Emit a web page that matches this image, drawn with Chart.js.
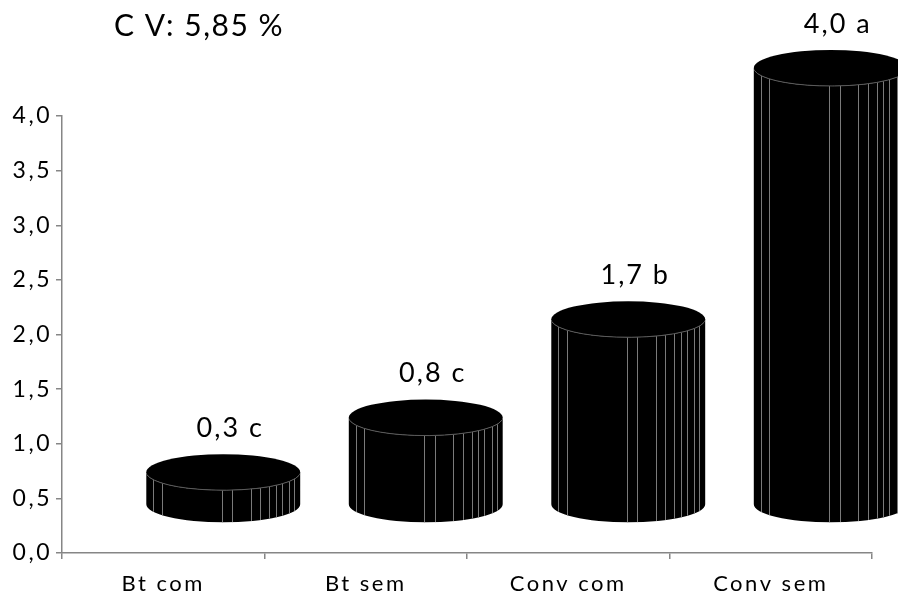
<!DOCTYPE html>
<html>
<head>
<meta charset="utf-8">
<script src="https://cdn.jsdelivr.net/npm/chart.js@4"></script>
<style>
  html, body { margin: 0; padding: 0; background: #fff; }
  #wrap { width: 898px; height: 593px; }
</style>
</head>
<body>
<div id="wrap"><canvas id="chart" width="898" height="593"></canvas></div>
<script>
// ----------------------------------------------------------------
//  Dados
// ----------------------------------------------------------------
const categories = ['Bt com', 'Bt sem', 'Conv com', 'Conv sem'];
const values     = [0.3, 0.8, 1.7, 4.0];
const letters    = ['c', 'c', 'b', 'a'];
const yTicks     = [0, 0.5, 1, 1.5, 2, 2.5, 3, 3.5, 4];
const cvLabel    = 'C V: 5,85 %';

const FONT = 'Lato, "Open Sans", sans-serif';
const fmt = v => v.toFixed(1).replace('.', ',');

// ----------------------------------------------------------------
//  Espaçamento de letras (texto do original é bem espaçado)
// ----------------------------------------------------------------
const spacingPlugin = {
  id: 'spacing',
  beforeLayout(chart) { chart.ctx.letterSpacing = '2.5px'; },
  beforeDraw(chart)   { chart.ctx.letterSpacing = '2.5px'; }
};

// ----------------------------------------------------------------
//  Cilindros 3D (estilo Excel) desenhados sobre as barras
// ----------------------------------------------------------------
const facets = [0.045, 0.10, 0.49, 0.56, 0.68, 0.74, 0.80, 0.84, 0.88, 0.93, 0.96];

const cylinderPlugin = {
  id: 'cylinders',
  afterDatasetsDraw(chart) {
    const ctx  = chart.ctx;
    const meta = chart.getDatasetMeta(0);
    const dx = 60, dy = -48;   // deslocamento de profundidade

    ctx.save();
    meta.data.forEach((bar, i) => {
      const cx   = bar.x + dx;
      const rx   = bar.width / 2;
      const ry   = 18;
      const topY = bar.y + dy;
      const botY = bar.base + dy;

      // corpo
      ctx.beginPath();
      ctx.moveTo(cx - rx, topY);
      ctx.lineTo(cx - rx, botY);
      ctx.ellipse(cx, botY, rx, ry, 0, Math.PI, 0, true);
      ctx.lineTo(cx + rx, topY);
      ctx.ellipse(cx, topY, rx, ry, 0, 0, Math.PI, false);
      ctx.closePath();
      ctx.fillStyle = '#000';
      ctx.fill();

      // faces verticais
      ctx.strokeStyle = '#7a7a7a';
      ctx.lineWidth = 1;
      facets.forEach(f => {
        const x = Math.round(cx - rx + f * 2 * rx) + 0.5;
        const t = (x - cx) / rx;
        const h = ry * Math.sqrt(Math.max(0, 1 - t * t));
        ctx.beginPath();
        ctx.moveTo(x, topY + h);
        ctx.lineTo(x, botY + h);
        ctx.stroke();
      });

      // tampa
      ctx.beginPath();
      ctx.ellipse(cx, topY, rx, ry, 0, 0, Math.PI * 2);
      ctx.fillStyle = '#000';
      ctx.fill();
      ctx.beginPath();
      ctx.ellipse(cx, topY, rx, ry, 0, 0.15, Math.PI - 0.15);
      ctx.strokeStyle = '#5a5a5a';
      ctx.stroke();

      // rótulo
      ctx.fillStyle = '#000';
      ctx.letterSpacing = '2px';
      ctx.font = '27px ' + FONT;
      ctx.textAlign = 'center';
      ctx.textBaseline = 'middle';
      ctx.fillText(fmt(values[i]) + ' ' + letters[i], cx + 7, topY - ry - 26);
    });

    // CV
    ctx.letterSpacing = '1.5px';
    ctx.font = '30px ' + FONT;
    ctx.textAlign = 'left';
    ctx.textBaseline = 'middle';
    ctx.fillText(cvLabel, 114, 26);
    ctx.restore();
  }
};

// ----------------------------------------------------------------
//  Gráfico
// ----------------------------------------------------------------
new Chart(document.getElementById('chart'), {
  type: 'bar',
  data: {
    labels: categories,
    datasets: [{
      data: values,
      backgroundColor: 'rgba(0,0,0,0)',
      borderWidth: 0,
      categoryPercentage: 1,
      barPercentage: 0.76,
    }]
  },
  options: {
    responsive: false,
    animation: false,
    layout: { padding: { top: 116, right: 26, left: 0, bottom: 0 } },
    plugins: { legend: { display: false }, tooltip: { enabled: false }, title: { display: false } },
    scales: {
      x: {
        afterFit: s => { s.height = 40; },
        border: { color: '#868686', width: 1.5 },
        grid: { offset: true, drawOnChartArea: false, color: '#868686', tickLength: 6, lineWidth: 1.5 },
        ticks: { color: '#000', font: { family: FONT, size: 22 }, padding: 12, maxRotation: 0 }
      },
      y: {
        min: 0, max: 4,
        afterFit: s => { s.width = 62; },
        afterBuildTicks: s => { s.ticks = yTicks.map(v => ({ value: v })); },
        border: { color: '#868686', width: 1.5 },
        grid: { drawOnChartArea: false, color: '#868686', tickLength: 6, lineWidth: 1.5 },
        ticks: { color: '#000', font: { family: FONT, size: 23 }, padding: 4, callback: v => fmt(v) }
      }
    }
  },
  plugins: [spacingPlugin, cylinderPlugin]
});
</script>
</body>
</html>
